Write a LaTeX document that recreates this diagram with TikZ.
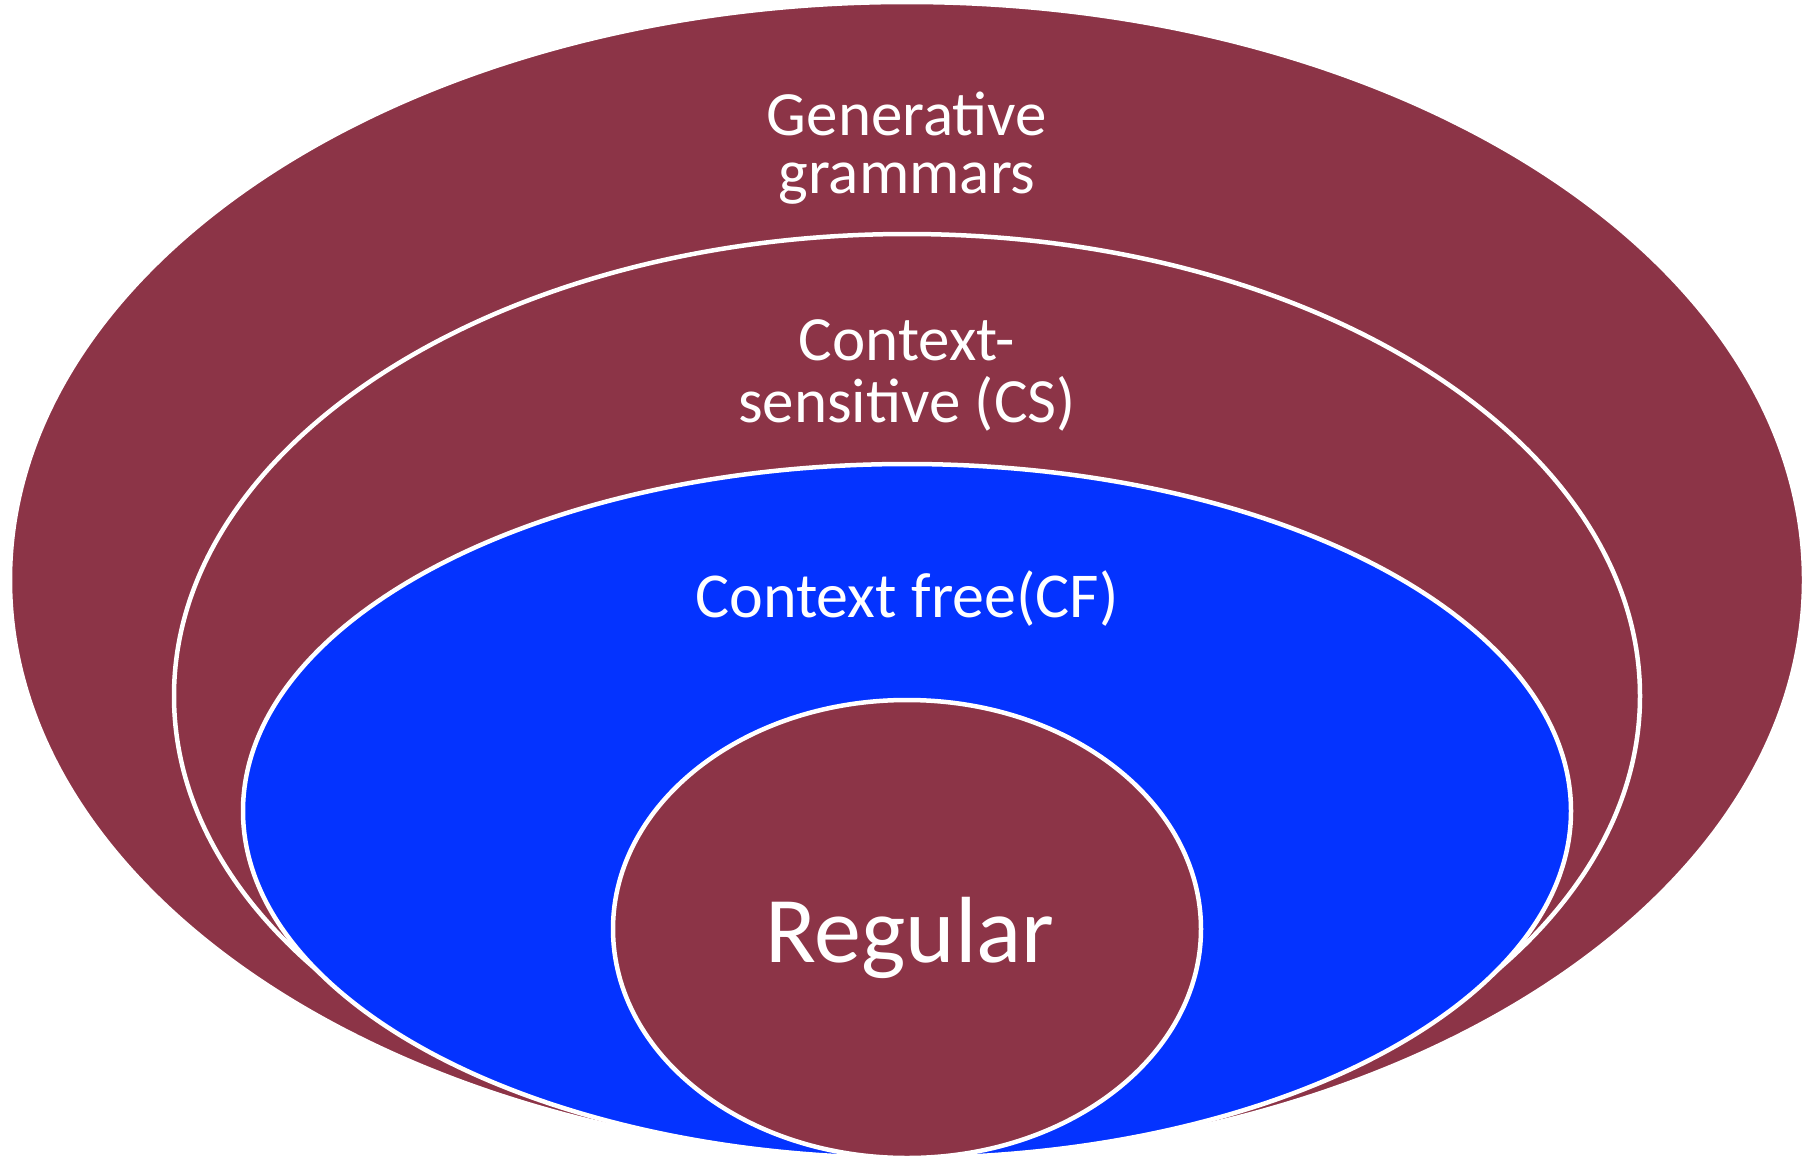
\documentclass[tikz,border=0pt]{standalone}
\usepackage{fontspec}
\setmainfont{Carlito}
\definecolor{wine}{HTML}{8C3447}
\definecolor{vivid}{HTML}{0433FF}
\begin{document}
\begin{tikzpicture}[x=1pt,y=-1pt,
  setring/.style={draw=white, line width=4.5pt},
  lbl/.style={text=white, inner sep=0pt, anchor=base, align=center},
  biglbl/.style={text=white, inner sep=0pt, anchor=base, font=\fontsize{94}{94}\selectfont}]
\useasboundingbox (0,0) rectangle (1813,1159);
% nested language classes, outermost first
\filldraw[setring, fill=wine]  (907,580) ellipse [x radius=897pt, y radius=578pt];
\filldraw[setring, fill=wine]  (907,696) ellipse [x radius=733pt, y radius=462pt];
\filldraw[setring, fill=vivid] (907,811) ellipse [x radius=664pt, y radius=347pt];
\filldraw[setring, fill=wine]  (907,929) ellipse [x radius=294pt, y radius=229pt];
% labels (multi-line nodes are placed by the baseline of their last line)
\node[lbl, font=\fontsize{63}{58}\selectfont] (gen) at (907,193) {Generative\\grammars};
\node[lbl, font=\fontsize{63}{62}\selectfont] (cs) at (907,422) {Context-\\sensitive (CS)};
\node[lbl, font=\fontsize{64}{64}\selectfont] (cf) at (907,617) {Context free(CF)};
\node[biglbl] (reg) at (910,962) {Regular};
\end{tikzpicture}
\end{document}
